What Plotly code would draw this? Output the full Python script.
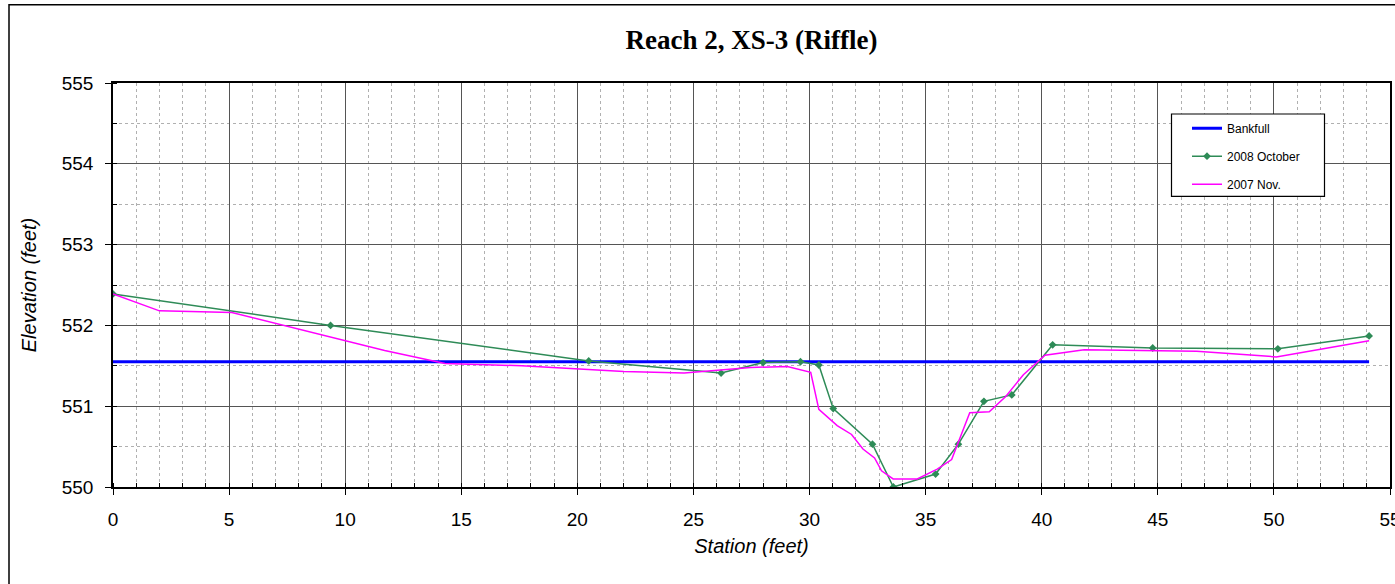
import plotly.graph_objects as go

# Bankfull
bank_x = [0, 54.1]
bank_y = [551.55, 551.55]

# 2008 October
oct_x = [0, 9.37, 20.49, 26.19, 28.0, 29.61, 30.4, 31.02, 32.71, 33.61, 35.43, 36.41, 37.51, 38.71, 40.47, 44.78, 50.17, 54.1]
oct_y = [552.39, 552.0, 551.56, 551.41, 551.54, 551.55, 551.51, 550.97, 550.53, 550.0, 550.16, 550.53, 551.06, 551.14, 551.76, 551.72, 551.71, 551.87]

# 2007 Nov.
nov_x = [0, 2.0, 5.12, 11.7, 14.3, 17.6, 22.0, 24.6, 27.46, 29.04, 30.05, 30.4, 31.19, 31.81, 32.3, 32.8, 33.1, 33.6, 34.64, 35.5, 36.12, 36.9, 37.74, 38.45, 39.21, 40.14, 41.83, 46.67, 50.1, 54.1]
nov_y = [552.39, 552.18, 552.16, 551.69, 551.53, 551.5, 551.43, 551.41, 551.48, 551.49, 551.42, 550.96, 550.76, 550.65, 550.47, 550.36, 550.2, 550.1, 550.1, 550.22, 550.34, 550.92, 550.93, 551.12, 551.39, 551.63, 551.7, 551.68, 551.61, 551.81]

fig = go.Figure()
fig.add_trace(go.Scatter(x=bank_x, y=bank_y, mode="lines", name="Bankfull",
                         line=dict(color="#0000FF", width=3), legendgroup="a"))
fig.add_trace(go.Scatter(x=oct_x, y=oct_y, mode="lines+markers", name="2008 October",
                         line=dict(color="#2E8B57", width=1.5),
                         marker=dict(symbol="diamond", size=6, color="#2E8B57"), legendgroup="b"))
fig.add_trace(go.Scatter(x=nov_x, y=nov_y, mode="lines", name="2007 Nov.",
                         line=dict(color="#FF00FF", width=1.5), legendgroup="c"))

W, H = 1395, 584
L, R, T, B = 113, 1390, 83.3, 487.3
pw, ph = R - L, B - T

axis_font = dict(family="Liberation Sans, Arial", size=19, color="black")
title_font = dict(family="Liberation Sans, Arial", size=20, color="black")
fig.update_layout(
    width=W, height=H,
    margin=dict(l=L, r=W - R, t=T, b=H - B, autoexpand=False),
    paper_bgcolor="white", plot_bgcolor="white",
    title=dict(text="<b>Reach 2, XS-3 (Riffle)</b>", x=0.5, xref="paper", xanchor="center",
               y=1 - 40 / H, yanchor="middle",
               font=dict(family="Liberation Serif, Times New Roman", size=27, color="black")),
    xaxis=dict(range=[0, 55], dtick=5, tick0=0, showgrid=True, gridcolor="#555555", gridwidth=1,
               showline=True, linecolor="black", linewidth=1.5, mirror=True,
               ticks="outside", ticklen=6, tickcolor="black", tickfont=axis_font, zeroline=False,
               ticklabelstandoff=8, ticklabeloverflow="allow", automargin=False,
               minor=dict(dtick=1, showgrid=True, gridcolor="#b0b0b0", griddash="dot",
                          ticks="inside", ticklen=4, tickcolor="black"),
               title=dict(text="<i>Station (feet)</i>", standoff=10, font=title_font)),
    yaxis=dict(range=[550, 555], dtick=1, showgrid=True, gridcolor="#555555", gridwidth=1,
               showline=True, linecolor="black", linewidth=1.5, mirror=True,
               ticks="outside", ticklen=6, tickcolor="black", tickfont=axis_font, zeroline=False,
               ticklabelstandoff=8, automargin=False,
               minor=dict(dtick=0.5, showgrid=True, gridcolor="#b0b0b0", griddash="dot",
                          ticks="inside", ticklen=4, tickcolor="black"),
               title=dict(text="<i>Elevation (feet)</i>", standoff=20, font=title_font)),
    legend=dict(x=(1187 - L) / pw, y=(B - 114) / ph, xanchor="left", yanchor="top",
                bgcolor="rgba(0,0,0,0)", borderwidth=0,
                font=dict(family="Liberation Sans, Arial", size=12, color="black"),
                tracegroupgap=9, traceorder="grouped"),
    showlegend=True,
    shapes=[
        dict(type="rect", xref="paper", yref="paper",
             x0=(9 - L) / pw, x1=1.05, y0=-0.4, y1=(B - 5) / ph,
             line=dict(color="black", width=1.5), fillcolor="rgba(0,0,0,0)", layer="below"),
        dict(type="rect", xref="paper", yref="paper",
             x0=(1171.5 - L) / pw, x1=(1324.5 - L) / pw,
             y0=(B - 196.7) / ph, y1=(B - 114.3) / ph,
             line=dict(color="black", width=1.2), fillcolor="white", layer="above"),
    ],
)

fig.write_html("out.html")
